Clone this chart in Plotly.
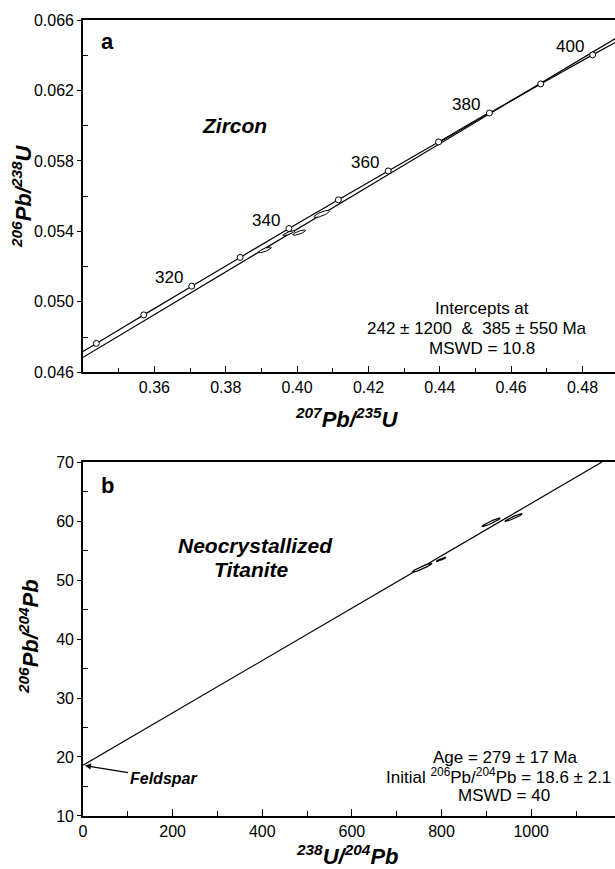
import numpy as np
import plotly.graph_objects as go

# ---------------- data ----------------
# Panel a: concordia age markers (Ma) and their ratios
concordia_age = [300, 310, 320, 330, 340, 350, 360, 370, 380, 390, 400]
concordia_x = [0.34374, 0.35704, 0.37047, 0.38403, 0.39773, 0.41157,
               0.42554, 0.43965, 0.45390, 0.46829, 0.48283]
concordia_y = [0.04764, 0.04926, 0.05089, 0.05252, 0.05416, 0.05579,
               0.05743, 0.05908, 0.06072, 0.06237, 0.06402]
# concordia curve ends at the plot edges
curve_x = [0.3400] + concordia_x + [0.4902]
curve_y = [0.04718] + concordia_y + [0.06484]
label_ages = [320, 340, 360, 380, 400]

# discordia chord (lower intercept 242 Ma -> right edge)
discordia_x = [0.26912, 0.4902]
discordia_y = [0.03825, 0.06507]

# zircon analyses: centre x, centre y, half-extent x, half-extent y, correlation
zr_cx = [0.3910, 0.3977, 0.4006, 0.4069, 0.4468]
zr_cy = [0.05295, 0.05390, 0.05393, 0.05499, 0.05990]
zr_sx = [0.0018, 0.0017, 0.0018, 0.0022, 0.0065]
zr_sy = [0.00016, 0.00014, 0.00015, 0.00020, 0.00078]
zr_rho = [0.80, 0.85, 0.80, 0.80, 0.999]

# Panel b: isochron
iso_x = [0, 1158]
iso_y = [18.6, 70.0]
ti_cx = [757, 799, 911, 961]
ti_cy = [52.1, 53.5, 59.8, 60.6]
ti_sx = [22, 11, 20, 19]
ti_sy = [0.75, 0.35, 0.70, 0.65]
ti_rho = [0.95, 0.95, 0.95, 0.95]

# ticks
a_xticks = [0.36, 0.38, 0.40, 0.42, 0.44, 0.46, 0.48]
a_xminor = [0.35, 0.37, 0.39, 0.41, 0.43, 0.45, 0.47]
a_yticks = [0.046, 0.050, 0.054, 0.058, 0.062, 0.066]
a_yminor = [0.048, 0.052, 0.056, 0.060, 0.064]
b_xticks = [0, 200, 400, 600, 800, 1000]
b_xminor = [100, 300, 500, 700, 900, 1100]
b_yticks = [10, 20, 30, 40, 50, 60, 70]
b_yminor = [15, 25, 35, 45, 55, 65]

FONT = "Liberation Sans, Arial, Helvetica, sans-serif"
W, H = 615, 869
ML, MR, MT, MB = 83, 0, 20, 53
PW, PH = W - ML - MR, H - MT - MB


def px(x):
    return (x - ML) / PW


def py(y):
    return (H - MB - y) / PH


def ellipse(cx, cy, sx, sy, rho, n=80):
    t = np.linspace(0, 2 * np.pi, n)
    ex = cx + sx * np.cos(t)
    ey = cy + sy * (rho * np.cos(t) + np.sqrt(1 - rho ** 2) * np.sin(t))
    return ex, ey


fig = go.Figure()

# ---- panel a ----
fig.add_trace(go.Scatter(x=discordia_x, y=discordia_y, mode="lines",
                         line=dict(color="black", width=1.2),
                         xaxis="x", yaxis="y", showlegend=False))
fig.add_trace(go.Scatter(x=curve_x, y=curve_y, mode="lines",
                         line=dict(color="black", width=1.2, shape="spline"),
                         xaxis="x", yaxis="y", showlegend=False))
for i in range(len(zr_cx)):
    ex, ey = ellipse(zr_cx[i], zr_cy[i], zr_sx[i], zr_sy[i], zr_rho[i])
    fig.add_trace(go.Scatter(x=ex, y=ey, mode="lines", fill="toself",
                             fillcolor="white",
                             line=dict(color="black", width=1),
                             xaxis="x", yaxis="y", showlegend=False))
fig.add_trace(go.Scatter(x=concordia_x, y=concordia_y, mode="markers",
                         marker=dict(symbol="circle", size=6, color="white",
                                     line=dict(color="black", width=1)),
                         xaxis="x", yaxis="y", showlegend=False))

# ---- panel b ----
fig.add_trace(go.Scatter(x=iso_x, y=iso_y, mode="lines",
                         line=dict(color="black", width=1.2),
                         xaxis="x2", yaxis="y2", showlegend=False))
for i in range(len(ti_cx)):
    ex, ey = ellipse(ti_cx[i], ti_cy[i], ti_sx[i], ti_sy[i], ti_rho[i])
    fig.add_trace(go.Scatter(x=ex, y=ey, mode="lines", fill="toself",
                             fillcolor="white",
                             line=dict(color="black", width=1.2),
                             xaxis="x2", yaxis="y2", showlegend=False))

tickfont = dict(family=FONT, size=16, color="black")
common_x = dict(showline=True, linecolor="black", linewidth=1.6, mirror=True,
                ticks="inside", ticklen=7, tickwidth=1.2, tickcolor="black",
                showgrid=False, zeroline=False, tickfont=tickfont,
                tickmode="array")
common_y = dict(showline=True, linecolor="black", linewidth=1.6,
                ticks="outside", ticklen=4, tickwidth=1.2, tickcolor="black",
                showgrid=False, zeroline=False, tickfont=tickfont,
                tickmode="array")

fig.update_layout(
    width=W, height=H,
    margin=dict(l=ML, r=MR, t=MT, b=MB),
    paper_bgcolor="white", plot_bgcolor="white",
    font=dict(family=FONT, color="black"),
    xaxis=dict(common_x, anchor="y", domain=[0, 1], range=[0.34, 0.4891],
               tickvals=a_xticks, ticktext=[f"{v:.2f}" for v in a_xticks],
               minor=dict(tickmode="array", tickvals=a_xminor, ticks="inside",
                          ticklen=5, tickwidth=1.2, tickcolor="black")),
    yaxis=dict(common_y, anchor="x", domain=[0.5574, 1], range=[0.046, 0.066],
               tickvals=a_yticks, ticktext=[f"{v:.3f}" for v in a_yticks],
               minor=dict(tickmode="array", tickvals=a_yminor, ticks="inside",
                          ticklen=5, tickwidth=1.2, tickcolor="black")),
    xaxis2=dict(common_x, anchor="y2", domain=[0, 1], range=[0, 1187],
                mirror=True,
                tickvals=b_xticks, ticktext=[str(v) for v in b_xticks],
                minor=dict(tickmode="array", tickvals=b_xminor, ticks="inside",
                           ticklen=5, tickwidth=1.2, tickcolor="black")),
    yaxis2=dict(common_y, anchor="x2", domain=[0, 0.4447], range=[10, 70],
                tickvals=b_yticks, ticktext=[str(v) for v in b_yticks],
                minor=dict(tickmode="array", tickvals=b_yminor, ticks="inside",
                           ticklen=5, tickwidth=1.2, tickcolor="black")),
)

ann = []
# age labels on concordia
for age in label_ages:
    i = concordia_age.index(age)
    ann.append(dict(x=concordia_x[i], y=concordia_y[i], xref="x", yref="y",
                    text=str(age), showarrow=False, xanchor="right",
                    yanchor="bottom", xshift=-7, yshift=-3,
                    font=dict(family=FONT, size=17, color="black")))


def txt(x, y, text, size=17, bold=False, italic=False, angle=0):
    t = text
    if italic:
        t = f"<i>{t}</i>"
    if bold:
        t = f"<b>{t}</b>"
    ann.append(dict(x=px(x), y=py(y), xref="paper", yref="paper", text=t,
                    showarrow=False, xanchor="center", yanchor="middle",
                    textangle=angle,
                    font=dict(family=FONT, size=size, color="black")))


NB = "\u00a0"
txt(107, 42, "a", size=22, bold=True)
txt(234, 126, "Zircon", size=21, bold=True, italic=True)
txt(482, 308, "Intercepts at")
txt(477, 328, f"242 ± 1200{NB}{NB}&{NB}{NB}385 ± 550 Ma")
txt(482, 348, "MSWD = 10.8")
txt(347, 418, "<sup>207</sup>Pb/<sup>235</sup>U", size=22, bold=True, italic=True)
txt(22, 196, "<sup>206</sup>Pb/<sup>238</sup>U", size=22, bold=True, italic=True,
    angle=-90)

txt(107, 485, "b", size=22, bold=True)
txt(255, 545, "Neocrystallized", size=21, bold=True, italic=True)
txt(251, 569, "Titanite", size=21, bold=True, italic=True)
txt(505, 757, "Age = 279 ± 17 Ma")
txt(498, 776, "Initial <sup>206</sup>Pb/<sup>204</sup>Pb = 18.6 ± 2.1")
txt(504, 795, "MSWD = 40")
txt(347, 855, "<sup>238</sup>U/<sup>204</sup>Pb", size=22, bold=True, italic=True)
txt(29, 637, "<sup>206</sup>Pb/<sup>204</sup>Pb", size=22, bold=True, italic=True,
    angle=-90)

ann.append(dict(x=0, y=18.6, xref="x2", yref="y2", text="<b><i>Feldspar</i></b>",
                showarrow=True, arrowhead=2, arrowsize=1, arrowwidth=1.2,
                arrowcolor="black", ax=80, ay=13, standoff=2,
                font=dict(family=FONT, size=16, color="black")))

fig.update_layout(annotations=ann)
fig.write_html(
    "out.html",
    config={"displayModeBar": False},
    post_script="document.body.style.margin='0';"
                "document.body.style.overflow='hidden';",
)
